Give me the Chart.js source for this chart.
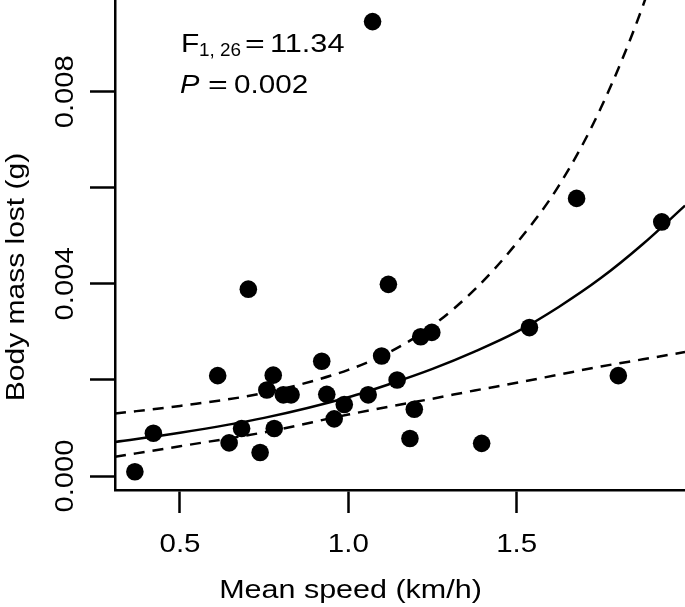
<!DOCTYPE html>
<html>
<head>
<meta charset="utf-8">
<script src="https://cdn.jsdelivr.net/npm/chart.js@4"></script>
<style>
  body { margin: 0; background: #ffffff; }
  canvas { display: block; }
</style>
</head>
<body>
<canvas id="mass-chart" width="685" height="607"></canvas>
<script>
// observed points
const speed = [0.366, 0.421, 0.612, 0.646, 0.683, 0.703, 0.738, 0.758, 0.777, 0.780,
               0.807, 0.830, 0.921, 0.936, 0.958, 0.988, 1.059, 1.072, 1.099, 1.119,
               1.145, 1.183, 1.196, 1.215, 1.248, 1.396, 1.538, 1.678, 1.802, 1.931];
const massLost = [0.00009, 0.00089, 0.00209, 0.00069, 0.00099, 0.00389, 0.00049, 0.00179, 0.00210, 0.00099,
                  0.00169, 0.00169, 0.00239, 0.00170, 0.00119, 0.00149, 0.00169, 0.00946, 0.00250, 0.00399,
                  0.00200, 0.00078, 0.00139, 0.00290, 0.00299, 0.00068, 0.00309, 0.00578, 0.00209, 0.00529];

// fitted curve and its confidence band
const fitSpeed = [0.307, 0.5, 0.75, 1.0, 1.125, 1.25, 1.375, 1.5, 1.625, 1.75, 1.875, 2.0];
const fitMean  = [0.00071, 0.00090, 0.00121, 0.00164, 0.00192, 0.00223, 0.00259, 0.00300, 0.00352, 0.00412, 0.00483, 0.00563];
const fitUpper = [0.00130, 0.00146, 0.00173, 0.00221, 0.00259, 0.00313, 0.00388, 0.00485, 0.00604, 0.00766, 0.00979, 0.01250];
const fitLower = [0.00040, 0.00062, 0.00091, 0.00128, 0.00145, 0.00161, 0.00178, 0.00194, 0.00211, 0.00228, 0.00243, 0.00258];

const xTicks = [0.5, 1.0, 1.5];
const xTickLabels = ['0.5', '1.0', '1.5'];
const yTicks = [0, 0.002, 0.004, 0.006, 0.008];
const yTickLabels = ['0.000', '', '0.004', '', '0.008'];

const FONT = '"Liberation Sans", Arial, Helvetica, sans-serif';

function toXY(xs, ys){
    let out = [];
    for(let i=0; i<xs.length; i++){
        out.push({x: xs[i], y: ys[i]});
    }
    return out;
}

// text is a bit wider than Arial in the original, so stretch it sideways
function drawText(ctx, str, x, y, font, align, sx, rotate){
    ctx.save();
    ctx.font = font;
    ctx.textAlign = align;
    ctx.textBaseline = 'alphabetic';
    ctx.translate(x, y);
    if(rotate){ ctx.rotate(-Math.PI/2); }
    ctx.scale(sx, 1);
    ctx.fillText(str, 0, 0);
    ctx.restore();
}

const extraText = {
    id: 'extraText',
    afterDraw(chart){
        const ctx = chart.ctx;
        const xScale = chart.scales.x;
        const yScale = chart.scales.y;
        ctx.save();
        ctx.fillStyle = '#000000';

        // tick labels
        for(let i=0; i<xTicks.length; i++){
            drawText(ctx, xTickLabels[i], xScale.getPixelForValue(xTicks[i]), 552, '25px ' + FONT, 'center', 1.18, false);
        }
        for(let i=0; i<yTicks.length; i++){
            if(yTickLabels[i] === '') continue;
            drawText(ctx, yTickLabels[i], 72.5, yScale.getPixelForValue(yTicks[i]), '25px ' + FONT, 'center', 1.17, true);
        }

        // axis titles
        drawText(ctx, 'Body mass lost (g)', 23.5, 277, '25px ' + FONT, 'center', 1.2, true);
        drawText(ctx, 'Mean speed (km/h)', 350.5, 598, '25px ' + FONT, 'center', 1.22, false);

        // statistics
        drawText(ctx, 'F', 181, 52, '26px ' + FONT, 'left', 1.15, false);
        drawText(ctx, '1, 26', 199, 56, '18px ' + FONT, 'left', 1.05, false);
        drawText(ctx, '=', 245, 52, '26px ' + FONT, 'left', 1.3, false);
        drawText(ctx, '11.34', 270, 52, '26px ' + FONT, 'left', 1.18, false);

        drawText(ctx, 'P', 180, 93, 'italic 26px ' + FONT, 'left', 1.12, false);
        drawText(ctx, '=', 208, 93, '26px ' + FONT, 'left', 1.3, false);
        drawText(ctx, '0.002', 234, 93, '26px ' + FONT, 'left', 1.14, false);

        ctx.restore();
    }
};

const massCanvas = document.getElementById('mass-chart');
const massChart = new Chart(massCanvas, {
    type: 'scatter',
    data: {
        datasets: [
            {
                label: 'Observed',
                data: toXY(speed, massLost),
                pointRadius: 8.8,
                pointBackgroundColor: '#000000',
                pointBorderWidth: 0,
                showLine: false,
            },
            {
                label: 'Fit',
                data: toXY(fitSpeed, fitMean),
                showLine: true,
                pointRadius: 0,
                borderColor: '#000000',
                borderWidth: 2.5,
                cubicInterpolationMode: 'monotone',
            },
            {
                label: 'Upper',
                data: toXY(fitSpeed, fitUpper),
                showLine: true,
                pointRadius: 0,
                borderColor: '#000000',
                borderWidth: 2.5,
                borderDash: [11, 8],
                cubicInterpolationMode: 'monotone',
            },
            {
                label: 'Lower',
                data: toXY(fitSpeed, fitLower),
                showLine: true,
                pointRadius: 0,
                borderColor: '#000000',
                borderWidth: 2.5,
                borderDash: [11, 8],
                cubicInterpolationMode: 'monotone',
            }
        ]
    },
    options: {
        responsive: false,
        animation: false,
        layout: {padding: 0, autoPadding: false},
        plugins: {
            legend: {display: false},
            tooltip: {enabled: false}
        },
        scales: {
            x: {
                type: 'linear',
                min: 0.307,
                max: 2.0,
                afterBuildTicks: (scale) => { scale.ticks = xTicks.map(v => ({value: v})); },
                afterFit: (scale) => { scale.height = 117; },
                grid: {
                    drawOnChartArea: false,
                    drawTicks: true,
                    tickLength: 23,
                    tickWidth: 2.5,
                    tickColor: '#000000'
                },
                border: {display: true, color: '#000000', width: 2.5},
                ticks: {display: false}
            },
            y: {
                type: 'linear',
                min: -0.000291,
                max: 0.00991,
                afterBuildTicks: (scale) => { scale.ticks = yTicks.map(v => ({value: v})); },
                afterFit: (scale) => { scale.width = 115; },
                grid: {
                    drawOnChartArea: false,
                    drawTicks: true,
                    tickLength: 25,
                    tickWidth: 2.5,
                    tickColor: '#000000'
                },
                border: {display: true, color: '#000000', width: 2.5},
                ticks: {display: false}
            }
        }
    },
    plugins: [extraText]
});
</script>
</body>
</html>
